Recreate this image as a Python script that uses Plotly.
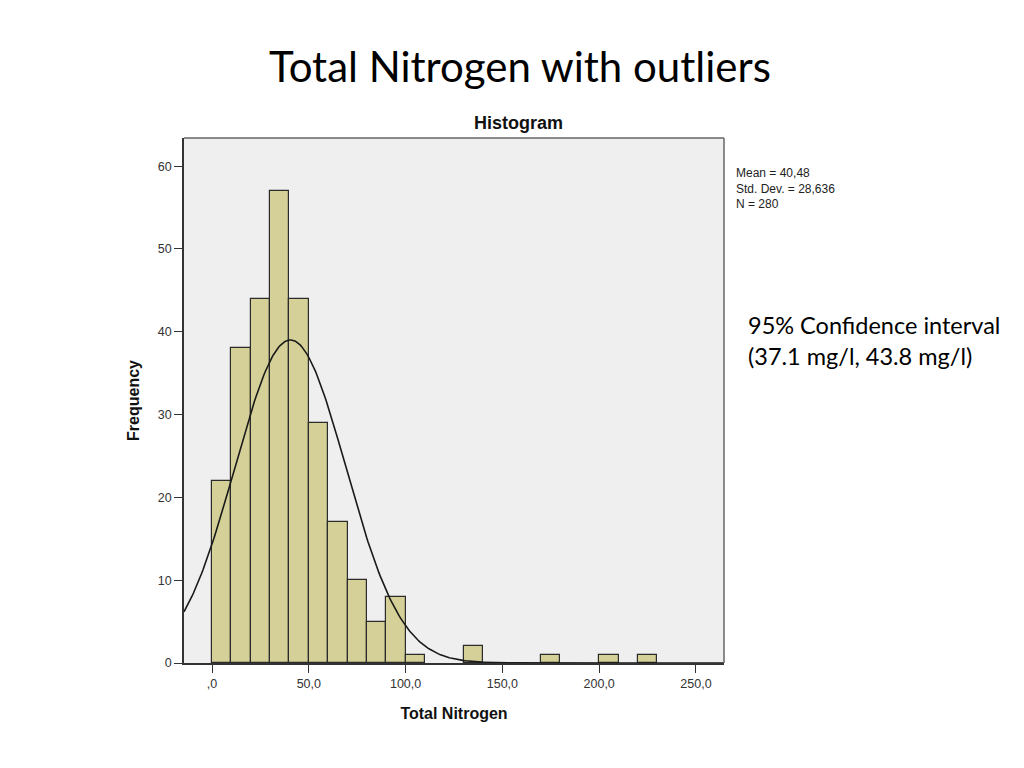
import numpy as np
import plotly.graph_objects as go

# Data
bin_starts = [0, 10, 20, 30, 40, 50, 60, 70, 80, 90, 100, 130, 170, 200, 220]
counts = [22, 38, 44, 57, 44, 29, 17, 10, 5, 8, 1, 2, 1, 1, 1]
bin_width = 10
stat_mean = 40.48
stat_sd = 28.636
stat_n = 280
x_tickvals = [0, 50, 100, 150, 200, 250]
x_ticktext = [",0", "50,0", "100,0", "150,0", "200,0", "250,0"]
y_tickvals = [0, 10, 20, 30, 40, 50, 60]

x_range = [-14.5, 264.5]
y_range = [0, 63.4]

centers = [b + bin_width / 2 for b in bin_starts]

# Normal curve overlay defined by the reported statistics
xc = np.linspace(x_range[0], x_range[1], 400)
yc = stat_n * bin_width / (stat_sd * np.sqrt(2 * np.pi)) * np.exp(-0.5 * ((xc - stat_mean) / stat_sd) ** 2)

fig = go.Figure()
fig.add_trace(go.Bar(
    x=centers, y=counts, width=[bin_width] * len(counts),
    marker=dict(color="#D4D098", line=dict(color="#2b2b2b", width=1.2)),
    hoverinfo="x+y", showlegend=False,
))
fig.add_trace(go.Scatter(
    x=xc, y=yc, mode="lines", line=dict(color="#1a1a1a", width=1.6),
    showlegend=False, hoverinfo="skip",
))

W, H = 1008, 752
L, R, T, B = 176, 292, 130, 97
plot_w = W - L - R
plot_h = H - T - B

fig.update_layout(
    width=W, height=H,
    margin=dict(l=L, r=R, t=T, b=B),
    paper_bgcolor="white", plot_bgcolor="#EFEFEF",
    bargap=0,
    font=dict(family="Liberation Sans, Arial, sans-serif", color="#333333", size=12),
)
fig.update_xaxes(
    range=x_range, tickvals=x_tickvals, ticktext=x_ticktext,
    ticks="outside", ticklen=8, tickwidth=1.2, tickcolor="#333333",
    showline=True, linecolor="#333333", linewidth=1.5, mirror=False,
    showgrid=False, zeroline=False,
    tickfont=dict(size=12.5, color="#333333"),
    title=dict(text="<b>Total Nitrogen</b>", font=dict(size=16, color="#111111"), standoff=18),
)
fig.update_yaxes(
    range=y_range, tickvals=y_tickvals,
    ticks="outside", ticklen=8, tickwidth=1.2, tickcolor="#333333",
    showline=True, linecolor="#333333", linewidth=1.5, mirror=False,
    showgrid=False, zeroline=False,
    tickfont=dict(size=12.5, color="#333333"),
    title=dict(text="<b>Frequency</b>", font=dict(size=16, color="#111111"), standoff=14),
)
# frame on top/right
fig.add_shape(type="line", xref="paper", yref="paper", x0=0, x1=1, y0=1, y1=1,
              line=dict(color="#666666", width=1.5))
fig.add_shape(type="line", xref="paper", yref="paper", x0=1, x1=1, y0=0, y1=1,
              line=dict(color="#666666", width=1.5))

# page title (page coords: centre x=520, y=66; body offset 8px)
fig.add_annotation(text="Total Nitrogen with outliers", xref="paper", yref="paper",
                   x=(520 - 8 - L) / plot_w, y=1 + (T + 8 - 66) / plot_h,
                   xanchor="center", yanchor="middle", showarrow=False,
                   font=dict(family="Lato, Open Sans, sans-serif", size=42, color="#000000"))
fig.add_annotation(text="<b>Histogram</b>", xref="paper", yref="paper",
                   x=0.62, y=1.0, xanchor="center", yanchor="bottom", yshift=3,
                   showarrow=False, font=dict(size=18, color="#111111"))
mean_txt = f"{stat_mean:.2f}".replace(".", ",")
sd_txt = f"{stat_sd:.3f}".replace(".", ",")
fig.add_annotation(text=f"Mean = {mean_txt}<br>Std. Dev. = {sd_txt}<br>N = {stat_n}",
                   xref="paper", yref="paper", x=1.0, xshift=10, y=1.0, yshift=-26,
                   xanchor="left", yanchor="top", align="left", showarrow=False,
                   font=dict(size=12, color="#222222"))
fig.add_annotation(text="95% Confidence interval<br>(37.1 mg/l, 43.8 mg/l)",
                   xref="paper", yref="paper", x=1.0, xshift=22, y=1.0, yshift=-171,
                   xanchor="left", yanchor="top", align="left", showarrow=False,
                   font=dict(family="Lato, Open Sans, sans-serif", size=23.5, color="#000000"))

fig.write_html("out.html")
